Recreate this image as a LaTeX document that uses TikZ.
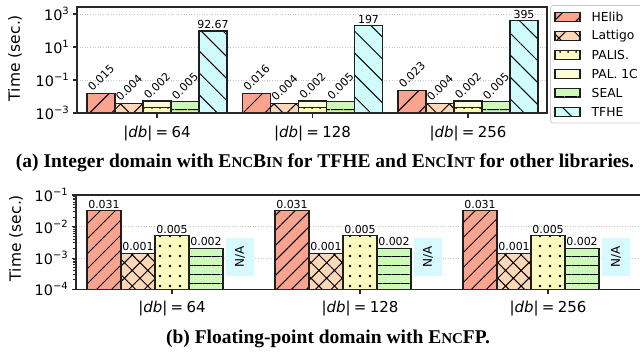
\documentclass[tikz,border=0pt]{standalone}
\usepackage{fontspec}
\usetikzlibrary{patterns.meta}
\newfontfamily\dv{DejaVu Sans}
\newfontfamily\capserif{Liberation Serif}

\definecolor{cHE}{RGB}{250,163,143}
\definecolor{cLA}{RGB}{253,216,184}
\definecolor{cPA}{RGB}{252,250,190}
\definecolor{cPO}{RGB}{253,252,212}
\definecolor{cSE}{RGB}{205,250,185}
\definecolor{cTF}{RGB}{208,252,252}
\definecolor{cNA}{RGB}{214,250,255}
\definecolor{spine}{RGB}{40,40,40}

% powers of ten for the log axes
\newcommand\tpow[1]{10\raisebox{0.42em}{\fontsize{10}{10}\selectfont #1}}
\newcommand\dbeq[1]{|\textit{db}|\hspace{0.22em}=\hspace{0.22em}#1}
\newcommand\fakesc[2]{#1{\fontsize{15}{16}\selectfont #2}}

\tikzset{
  edge/.style={draw=black!88, line width=1.1pt},
  % upper panel fills (coarser hatching)
  heT/.style={fill=cHE, postaction={pattern={Lines[angle=45,distance=15.5pt,line width=1pt]}, pattern color=black}, postaction={edge}},
  laT/.style={fill=cLA, postaction={pattern={Hatch[angle=45,distance=15.5pt,line width=1pt]}, pattern color=black}, postaction={edge}},
  paT/.style={fill=cPA, postaction={pattern={Dots[distance=8pt,radius=1pt]}, pattern color=black}, postaction={edge}},
  poT/.style={fill=cPO, postaction={edge}},
  seT/.style={fill=cSE, postaction={pattern={Lines[angle=0,distance=13pt,line width=1pt]}, pattern color=black}, postaction={edge}},
  tfT/.style={fill=cTF, postaction={pattern={Lines[angle=-45,distance=15.5pt,line width=1pt]}, pattern color=black}, postaction={edge}},
  % lower panel fills (finer hatching)
  heB/.style={fill=cHE, postaction={pattern={Lines[angle=45,distance=10.6pt,line width=1pt]}, pattern color=black}, postaction={edge}},
  laB/.style={fill=cLA, postaction={pattern={Hatch[angle=45,distance=11pt,line width=1pt]}, pattern color=black}, postaction={edge}},
  paB/.style={fill=cPA, postaction={pattern={Dots[distance=10pt,radius=1.3pt]}, pattern color=black}, postaction={edge}},
  seB/.style={fill=cSE, postaction={pattern={Lines[angle=0,distance=9pt,line width=1pt]}, pattern color=black}, postaction={edge}},
  axisline/.style={draw=spine, line width=1.2pt},
  gridline/.style={draw=black!22, line width=0.6pt, dotted},
  ticklab/.style={inner sep=0pt, anchor=east, font={\dv\fontsize{14.4}{15}\selectfont}},
  axlab/.style={inner sep=0pt, rotate=90, font={\dv\fontsize{15.5}{16}\selectfont}},
  grplab/.style={inner sep=0pt, font={\dv\fontsize{15}{16}\selectfont}},
  vallab/.style={inner sep=0pt, font={\dv\fontsize{11}{12}\selectfont}},
  leglab/.style={inner sep=0pt, anchor=west, font={\dv\fontsize{12.3}{13}\selectfont}},
  caption/.style={inner sep=0pt, font={\capserif\bfseries\fontsize{19.5}{20}\selectfont}},
}

\begin{document}
\begin{tikzpicture}[x=1pt,y=-1pt]
\useasboundingbox (0,0) rectangle (640,356);
\clip (0,0) rectangle (640,356);
\fill[white] (0,0) rectangle (640,356);

% ---------- upper panel: integer domain ----------
\foreach \gy in {14,47,80} \draw[gridline] (77,\gy) -- (547,\gy);

\foreach \c/\he/\hev/\tf/\tfv/\k in {157/93.3/0.015/31/92.67/1, 312.5/93.1/0.016/25.8/197/2, 468/90.3/0.023/20.8/395/3}{
  \path[heT] (\c-70,113) rectangle (\c-42,\he);
  \path[laT] (\c-42,113) rectangle (\c-14,103.3);
  \path[poT] (\c-14,113) rectangle (\c+14,101);
  \path[paT] (\c-14,113) rectangle (\c+14,107.7);
  \path[seT] (\c+14,113) rectangle (\c+42,101.7);
  \path[tfT] (\c+42,113) rectangle (\c+70,\tf);
  \node[vallab, rotate=45] (ahe\k) at (\c-56,\he-15.5) {\hev};
  \node[vallab, rotate=45] (ala\k) at (\c-28,103.3-15.5) {0.004};
  \node[vallab, rotate=45] (apa\k) at (\c,101.5-15.5) {0.002};
  \node[vallab, rotate=45] (ase\k) at (\c+28,101.7-15.5) {0.005};
  \node[vallab] (atf\k) at (\c+56,\tf-6.5) {\tfv};
  \draw[axisline] (\c,113) -- (\c,117.5);
  \node[grplab] (ag\k) at (\c,134) {\dbeq{\ifcase\k\or 64\or 128\or 256\fi}};
}

\draw[axisline] (77,7) rectangle (547,113);
\foreach \gy/\lab/\k in {14/3/1, 47/1/2, 80/\textminus1/3, 113/\textminus3/4}{
  \draw[axisline] (77,\gy) -- (72.5,\gy);
  \node[ticklab] (aty\k) at (69,\gy) {\tpow{\lab}};
}
\node[axlab] (aylab) at (15,58) {Time (sec.)};

% legend
\draw[draw=black!20, fill=white, rounded corners=2.5pt, line width=0.8pt] (550.5,5.5) rectangle (660,123);
\foreach \st/\lab/\yc/\k in {heT/HElib/16.7/1, laT/Lattigo/35.8/2, paT/PALIS./54.9/3, poT/PAL. 1C/74/4, seT/SEAL/93.1/5, tfT/TFHE/112.2/6}{
  \path[\st] (555,\yc-4.5) rectangle (580,\yc+4.5);
  \node[leglab] (leg\k) at (591.5,\yc) {\lab};
}

\node[caption] (capa) at (325,163) {(a) Integer domain with \fakesc{E}{NC}\fakesc{B}{IN} for TFHE and \fakesc{E}{NC}\fakesc{I}{NT} for other libraries.};

% ---------- lower panel: floating-point domain ----------
\foreach \gy in {226.7,258.3} \draw[gridline] (76,\gy) -- (640,\gy);

\foreach \c/\k in {172/1, 360/2, 548/3}{
  \path[heB] (\c-85,289.3) rectangle (\c-51,210.7);
  \path[laB] (\c-51,289.3) rectangle (\c-17,253.3);
  \path[paB] (\c-17,289.3) rectangle (\c+17,235.7);
  \path[seB] (\c+17,289.3) rectangle (\c+51,248.3);
  \node[vallab] (bhe\k) at (\c-68,210.7-6.7) {0.031};
  \node[vallab] (bla\k) at (\c-34,253.3-6.7) {0.001};
  \node[vallab] (bpa\k) at (\c,235.7-6.7) {0.005};
  \node[vallab] (bse\k) at (\c+34,248.3-6.7) {0.002};
  \node[fill=cNA, minimum width=28pt, minimum height=38pt, inner sep=0pt] (bna\k) at (\c+68,257) {};
  \node[vallab, rotate=90, font={\dv\fontsize{12}{12}\selectfont}] (bnat\k) at (bna\k) {N/A};
  \draw[axisline] (\c,289.3) -- (\c,293.8);
  \node[grplab] (bg\k) at (\c,309) {\dbeq{\ifcase\k\or 64\or 128\or 256\fi}};
}

\draw[axisline] (640,195) -- (76,195) -- (76,289.3) -- (640,289.3);
\foreach \gy/\lab/\k in {195/\textminus1/1, 226.7/\textminus2/2, 258.3/\textminus3/3, 289.3/\textminus4/4}{
  \draw[axisline] (76,\gy) -- (71.5,\gy);
  \node[ticklab] (bty\k) at (68,\gy) {\tpow{\lab}};
}
\foreach \d in {0,1,2}
  \foreach \m in {2,...,9}
    \draw[draw=spine, line width=0.8pt] (76,{289.3-31.43*(\d+log10(\m))}) -- ++(-2.6,0);
\node[axlab] (bylab) at (16,238) {Time (sec.)};

\node[caption] (capb) at (328,339) {(b) Floating-point domain with \fakesc{E}{NC}FP.};
\end{tikzpicture}
\end{document}
